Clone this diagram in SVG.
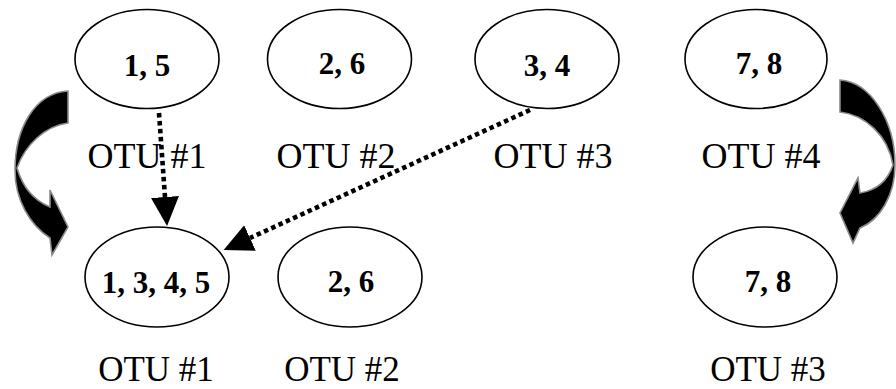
<svg xmlns="http://www.w3.org/2000/svg" width="896" height="389" viewBox="0 0 896 389">
<style>
.node ellipse{fill:#fff;stroke:#000;stroke-width:1.6}
.num{font-family:"Liberation Serif","Times New Roman",serif;font-weight:bold;font-size:31px;text-anchor:middle;fill:#000}
.lbl{font-family:"Liberation Serif","Times New Roman",serif;font-size:36px;text-anchor:middle;fill:#000}
.lbl2{font-family:"Liberation Serif","Times New Roman",serif;font-size:35px;text-anchor:middle;fill:#000}
.dot{fill:none;stroke:#000;stroke-width:4.6;stroke-dasharray:4.5 3.5}
.curve{fill:#000;stroke:#8a8a8a;stroke-width:1.6;stroke-linejoin:miter}
</style>
<defs>
<marker id="ah" markerUnits="userSpaceOnUse" markerWidth="30" markerHeight="30" refX="0" refY="14" orient="auto" viewBox="0 0 30 28">
<path d="M0,0 L29,14 L0,28 Z" fill="#000"/>
</marker>
</defs>
<rect width="896" height="389" fill="#fff"/>
<g id="connectors">
<path class="curve" d="M68 91 L68 123 C45 126 25 145 17 168 C22 185 33 200 50 207 L50 190 L68 227 L52 255 L50 238 C30 225 15 200 15 170 C15 128 35 93 68 91 Z"/>
<path class="curve" d="M840 80 L840 112 C865 115 888 135 893 165 C888 180 878 190 860 193 L858 178 L840 213 L853 243 L860 228 C880 220 895 195 895 165 C895 120 870 82 840 80 Z"/>
<path class="dot" d="M159 113 L165 197" marker-end="url(#ah)"/>
<path class="dot" d="M530 110 L250 238" marker-end="url(#ah)"/>
</g>
<g id="top-otu1" class="node"><ellipse cx="147" cy="59" rx="72" ry="49.5"/><text class="num" x="147" y="76">1, 5</text></g>
<g id="top-otu2" class="node"><ellipse cx="339.5" cy="59" rx="72" ry="49.5"/><text class="num" x="342" y="74">2, 6</text></g>
<g id="top-otu3" class="node"><ellipse cx="547" cy="59" rx="72" ry="49.5"/><text class="num" x="547" y="76">3, 4</text></g>
<g id="top-otu4" class="node"><ellipse cx="756" cy="59" rx="71" ry="49.5"/><text class="num" x="759" y="74">7, 8</text></g>
<g id="top-labels">
<text class="lbl" x="147" y="168">OTU #1</text>
<text class="lbl" x="336" y="168">OTU #2</text>
<text class="lbl" x="553" y="168">OTU #3</text>
<text class="lbl" x="761" y="168">OTU #4</text>
</g>
<g id="bot-otu1" class="node"><ellipse cx="157" cy="277" rx="72" ry="50"/><text class="num" x="156" y="293">1, 3, 4, 5</text></g>
<g id="bot-otu2" class="node"><ellipse cx="350" cy="277" rx="72" ry="50"/><text class="num" x="351" y="292">2, 6</text></g>
<g id="bot-otu3" class="node"><ellipse cx="765" cy="277" rx="72" ry="50"/><text class="num" x="768" y="292">7, 8</text></g>
<g id="bottom-labels">
<text class="lbl2" x="156" y="381">OTU #1</text>
<text class="lbl2" x="342" y="381">OTU #2</text>
<text class="lbl2" x="768" y="381">OTU #3</text>
</g>
</svg>
